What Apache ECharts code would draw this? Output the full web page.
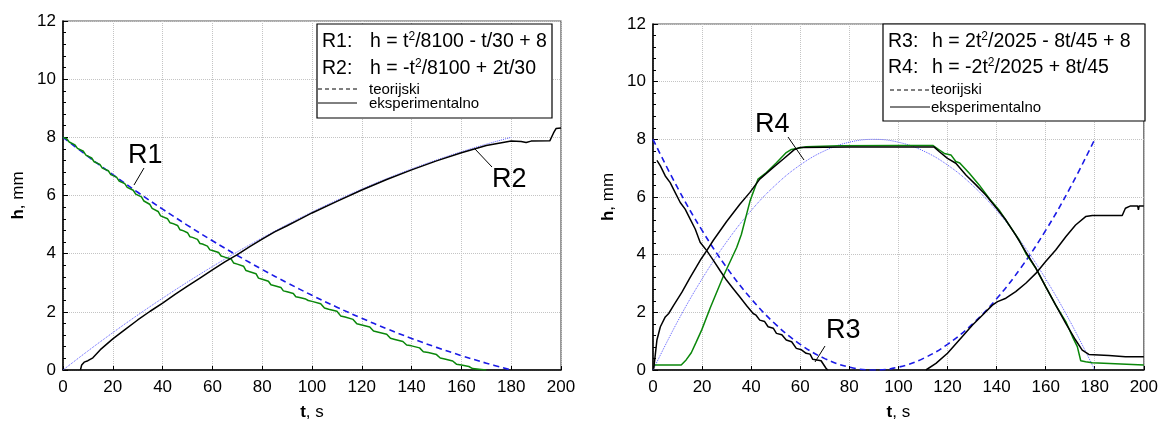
<!DOCTYPE html>
<html>
<head>
<meta charset="utf-8">
<script src="https://cdn.jsdelivr.net/npm/echarts@6/dist/echarts.min.js"></script>
<style>html,body{margin:0;padding:0;background:#fff}#c{width:1161px;height:428px}</style>
</head>
<body>
<div id="c"></div>
<script>
// ---- data ----
const yTicks = [0, 2, 4, 6, 8, 10, 12];
const xTicks = [0, 20, 40, 60, 80, 100, 120, 140, 160, 180, 200];
const tTheory = [0,10,20,30,40,50,60,70,80,90,100,110,120,130,140,150,160,170,180];
// left chart theory
const r1Theory = [8,7.346,6.716,6.111,5.531,4.975,4.444,3.938,3.457,3.0,2.568,2.160,1.778,1.420,1.086,0.778,0.494,0.235,0];
const r2Theory = [0,0.654,1.284,1.889,2.469,3.025,3.556,4.062,4.543,5.0,5.432,5.840,6.222,6.580,6.914,7.222,7.506,7.765,8.0];
// right chart theory
const r3Theory = [8,6.321,4.840,3.556,2.469,1.580,0.889,0.395,0.099,0,0.099,0.395,0.889,1.580,2.469,3.556,4.840,6.321,8];
const r4Theory = [0,1.679,3.160,4.444,5.531,6.420,7.111,7.605,7.901,8,7.901,7.605,7.111,6.420,5.531,4.444,3.160,1.679,0];
// experimental [t, h]
const r1Exp = [[0,8.0],[1.5,7.95],[2.5,7.84],[3.3,7.8],[4.8,7.74],[5.8,7.62],[6.6,7.58],[8.2,7.52],[9.2,7.39],[10,7.35],[11.5,7.29],[12.5,7.16],[13.3,7.13],[14.8,7.07],[15.8,6.94],[16.6,6.91],[18.2,6.85],[19.2,6.72],[20,6.69],[21.5,6.63],[22.5,6.5],[23.3,6.47],[24.8,6.41],[25.8,6.28],[26.6,6.25],[28.2,6.18],[29.2,6.05],[30,6.02],[31.5,5.95],[32.5,5.81],[33.3,5.78],[34.8,5.7],[35.8,5.56],[36.6,5.53],[38.2,5.45],[39.2,5.3],
 [40,5.28],[42,5.2],[43,5.06],[44,5.04],[46,4.97],[47,4.82],[48,4.8],[50,4.72],[51,4.58],[52,4.56],[54,4.49],[55,4.35],[56,4.33],[58,4.26],[59,4.13],
 [60,4.11],[62.5,4.04],[63.5,3.92],[65,3.88],[67.5,3.82],[68.5,3.68],[70,3.64],[72.5,3.57],[73.5,3.42],[75,3.38],[77.5,3.31],[78.5,3.16],[80,3.12],[82.5,3.05],[83.5,2.93],[85,2.9],[87.5,2.84],[88.5,2.72],[90,2.69],[92.5,2.63],[93.5,2.52],[95,2.49],[97.5,2.44],[98.5,2.39],
 [100,2.36],[103.5,2.28],[105,2.13],[106.7,2.09],[110,2.02],[111.5,1.86],[113.3,1.82],[116.5,1.74],[118,1.59],[120,1.55],[123.2,1.48],[124.7,1.34],[126.7,1.3],[130,1.23],[131.5,1.09],[133.3,1.05],[136.5,0.98],[138,0.86],[140,0.83],[143.2,0.76],[144.7,0.63],[146.7,0.6],[150,0.53],[151.5,0.41],[153.3,0.38],[156.5,0.31],[158,0.2],[160,0.17],[163,0.12],[164.5,0.05],[168,0.02],[170,0]];
const r2Exp = [[7,0],[7.5,0.17],[8.5,0.27],[10,0.32],[12,0.42],[15,0.7],[20,1.07],[25,1.4],[30,1.72],[35,2.02],[40,2.3],[45,2.6],[50,2.88],[55,3.16],[60,3.44],[65,3.72],[70,3.97],[75,4.24],[80,4.5],[85,4.75],[90,4.96],[95,5.18],[100,5.4],[110,5.8],[120,6.19],[130,6.55],[140,6.88],[150,7.19],[160,7.47],[170,7.72],[175,7.8],[180,7.87],[184,7.86],[186,7.82],[188,7.87],[195.5,7.88],[197,8.15],[198,8.3],[200,8.32]];
const r3ExpDown = [[1.6,7.27],[3,7.08],[5,6.73],[7,6.5],[9,6.16],[11.1,5.81],[13.1,5.58],[15.1,5.24],[17.2,4.89],[19.2,4.43],[21.9,4.14],[24.6,3.8],[27.3,3.45],[30,3.11],[32.7,2.82],[35.4,2.53],[38.1,2.24],[40.8,1.96],[42,1.9],[43.5,1.73],[45.5,1.68],[46.9,1.5],[49,1.45],[50.3,1.27],[52.5,1.22],[54.3,1.04],[56.5,0.98],[58.4,0.75],[60.5,0.7],[62.4,0.58],[64,0.55],[65.1,0.37],[68.5,0.32],[70.5,0.06],[71.2,0]];
const r3ExpUp = [[111.2,0],[115.3,0.23],[120,0.58],[124.8,1.04],[130.2,1.56],[134.3,1.91],[138.3,2.25],[140.4,2.37],[143.8,2.49],[147.8,2.72],[151.9,3.01],[156,3.35],[160,3.76],[164.1,4.16],[168.2,4.62],[172.2,5.03],[176.3,5.32],[179,5.36],[191.2,5.36],[192.5,5.61],[194.6,5.69],[197.5,5.69],[197.8,5.55],[198.1,5.69],[200,5.69]];
const r4ExpBlack = [[0.3,0.05],[1.6,1.04],[3,1.5],[5,1.84],[6.4,1.96],[8.4,2.24],[11.8,2.7],[15.1,3.2],[19.6,3.85],[21.9,4.14],[24.6,4.5],[30,5.15],[35.4,5.75],[39.5,6.16],[43.5,6.62],[48.9,7.02],[53,7.31],[57.7,7.65],[60,7.72],[80,7.73],[100,7.73],[114.6,7.73],[116.7,7.57],[120,7.34],[123.4,7.17],[127.5,6.76],[131.6,6.42],[135.6,6.07],[140,5.61],[143.8,5.2],[147.8,4.68],[151.9,4.1],[156,3.53],[160,2.89],[164.1,2.25],[168.2,1.62],[172.2,1.04],[174.9,0.69],[177.6,0.54],[185.8,0.5],[192.5,0.46],[200,0.46]];
const r4ExpGreen = [[0.3,0.17],[11.5,0.17],[13.5,0.35],[15.6,0.6],[17.5,0.95],[19.9,1.4],[23.3,2.15],[28.7,3.26],[34.1,4.25],[36,4.7],[39.5,5.85],[42.8,6.62],[46.2,6.85],[50.3,7.19],[54.3,7.54],[56.4,7.65],[62.4,7.74],[76,7.78],[100,7.79],[114,7.79],[116.7,7.63],[118.7,7.51],[121.4,7.46],[123.4,7.23],[125,7.18],[128.9,6.82],[132.9,6.42],[137,5.95],[141,5.55],[145.1,5.03],[149.2,4.51],[151.9,4.05],[156,3.53],[160,2.89],[164.1,2.25],[168.2,1.68],[170.9,1.16],[172.9,0.81],[174.3,0.32],[176.3,0.29],[179,0.25],[200,0.17]];

// ---- chart ----
const FONT = 'Liberation Sans, Arial, sans-serif';
const chart = echarts.init(document.getElementById('c'), null, {renderer: 'canvas'});
const pair = (ts, hs) => ts.map((t, i) => [t, hs[i]]);

function xAxis(gi) {
  return {
    type: 'value', gridIndex: gi, min: 0, max: 200, interval: 20,
    name: '{b|t}, s', nameLocation: 'middle', nameGap: 34,
    nameTextStyle: {fontSize: 17, fontFamily: FONT, color: '#000', rich: {b: {fontWeight: 'bold', fontSize: 17, fontFamily: FONT, color: '#000'}}},
    axisLine: {show: true, lineStyle: {color: '#000', width: 1.5}},
    axisTick: {show: true, inside: true, length: 4, lineStyle: {color: '#000'}},
    axisLabel: {fontSize: 17, fontFamily: FONT, color: '#000', margin: 9},
    splitLine: {show: true, lineStyle: {color: '#c4c4c4', type: 'dotted', width: 1}}
  };
}
function yAxis(gi) {
  return {
    type: 'value', gridIndex: gi, min: 0, max: 12, interval: 2,
    name: '{b|h}, mm', nameLocation: 'middle', nameGap: 36,
    nameTextStyle: {fontSize: 17, fontFamily: FONT, color: '#000', rich: {b: {fontWeight: 'bold', fontSize: 17, fontFamily: FONT, color: '#000'}}},
    axisLine: {show: true, lineStyle: {color: '#000', width: 1.5}},
    axisTick: {show: true, inside: true, length: 5, lineStyle: {color: '#000'}},
    minorTick: {show: true, splitNumber: 5, length: 3, lineStyle: {color: '#000'}},
    axisLabel: {fontSize: 17, fontFamily: FONT, color: '#000', margin: 7},
    splitLine: {show: true, lineStyle: {color: '#c4c4c4', type: 'dotted', width: 1}}
  };
}
function ln(name, gi, data, color, width, type, smooth, z) {
  return {
    name, type: 'line', xAxisIndex: gi, yAxisIndex: gi, data, showSymbol: false, symbol: 'none',
    smooth: smooth ? 0.4 : false, z: z, silent: true, animation: false,
    lineStyle: {color, width, type}
  };
}

const sup = {fontSize: 12, fontFamily: FONT, color: '#000', verticalAlign: 'top', lineHeight: 12};
const nrm = {fontSize: 19.5, fontFamily: FONT, color: '#000', lineHeight: 22};
function txt(x, y, text, size, extra) {
  return Object.assign({type: 'text', z: 110, style: {x, y, text, fontSize: size, fontFamily: FONT, fill: '#000', verticalAlign: 'middle', align: 'left'}}, extra || {});
}
function rich(x, y, text) {
  return {type: 'text', z: 110, style: {x, y, text, verticalAlign: 'middle', align: 'left', rich: {n: nrm, s: sup}}};
}
function seg(x1, y1, x2, y2, dash, w) {
  return {type: 'line', z: 110, shape: {x1, y1, x2, y2}, style: {stroke: '#000', lineWidth: w || 1, lineDash: dash || null}};
}

chart.setOption({
  animation: false,
  backgroundColor: '#fff',
  grid: [
    {left: 63, top: 21, width: 498, height: 349, show: true, borderColor: '#555', borderWidth: 1.2, backgroundColor: 'transparent'},
    {left: 653, top: 24, width: 492, height: 346, show: true, borderColor: '#555', borderWidth: 1.2, backgroundColor: 'transparent'}
  ],
  xAxis: [xAxis(0), xAxis(1)],
  yAxis: [yAxis(0), yAxis(1)],
  series: [
    ln('R2 teorijski', 0, pair(tTheory, r2Theory), '#5c5cff', 1, 'dotted', true, 2),
    ln('R1 teorijski', 0, pair(tTheory, r1Theory), '#1a1ae6', 1.6, [6, 4], true, 2),
    ln('R1 eksperimentalno', 0, r1Exp, '#0a870a', 1.5, 'solid', false, 3),
    ln('R2 eksperimentalno', 0, r2Exp, '#000', 1.5, 'solid', false, 4),
    ln('R4 teorijski', 1, pair(tTheory, r4Theory), '#5c5cff', 1, 'dotted', true, 2),
    ln('R3 teorijski', 1, pair(tTheory, r3Theory), '#1a1ae6', 1.6, [6, 4], true, 2),
    ln('R4 eksperimentalno 2', 1, r4ExpGreen, '#0a870a', 1.5, 'solid', false, 3),
    ln('R4 eksperimentalno', 1, r4ExpBlack, '#000', 1.5, 'solid', false, 4),
    ln('R3 eksperimentalno a', 1, r3ExpDown, '#000', 1.5, 'solid', false, 4),
    ln('R3 eksperimentalno b', 1, r3ExpUp, '#000', 1.5, 'solid', false, 4)
  ],
  graphic: [
    // left legend box
    {type: 'rect', z: 105, shape: {x: 317, y: 24, width: 235, height: 94}, style: {fill: '#fff', stroke: '#000', lineWidth: 1.2}},
    txt(322, 42, 'R1:', 19.5),
    rich(370, 42, '{n|h = t}{s|2}{n|/8100 - t/30 + 8}'),
    txt(322, 69, 'R2:', 19.5),
    rich(370, 69, '{n|h = -t}{s|2}{n|/8100 + 2t/30}'),
    seg(318, 89, 357, 89, [4, 3]),
    txt(369, 90, 'teorijski', 15),
    seg(318, 103, 357, 103),
    txt(369, 104, 'eksperimentalno', 15),
    // right legend box
    {type: 'rect', z: 105, shape: {x: 883, y: 24, width: 262, height: 97}, style: {fill: '#fff', stroke: '#000', lineWidth: 1.2}},
    txt(888, 42, 'R3:', 19.5),
    rich(932, 42, '{n|h = 2t}{s|2}{n|/2025 - 8t/45 + 8}'),
    txt(888, 68, 'R4:', 19.5),
    rich(932, 68, '{n|h = -2t}{s|2}{n|/2025 + 8t/45}'),
    seg(890, 90, 930, 90, [4, 3]),
    txt(931, 90, 'teorijski', 15),
    seg(890, 107, 930, 107),
    txt(931, 108, 'eksperimentalno', 15),
    // curve labels
    txt(128, 156, 'R1', 27),
    seg(144, 168, 134, 185),
    txt(492, 180, 'R2', 27),
    seg(475, 149, 492, 167),
    txt(755, 125, 'R4', 27),
    seg(788, 137, 804, 160),
    txt(826, 331, 'R3', 27),
    seg(825, 346, 815, 362)
  ]
});
</script>
</body>
</html>
